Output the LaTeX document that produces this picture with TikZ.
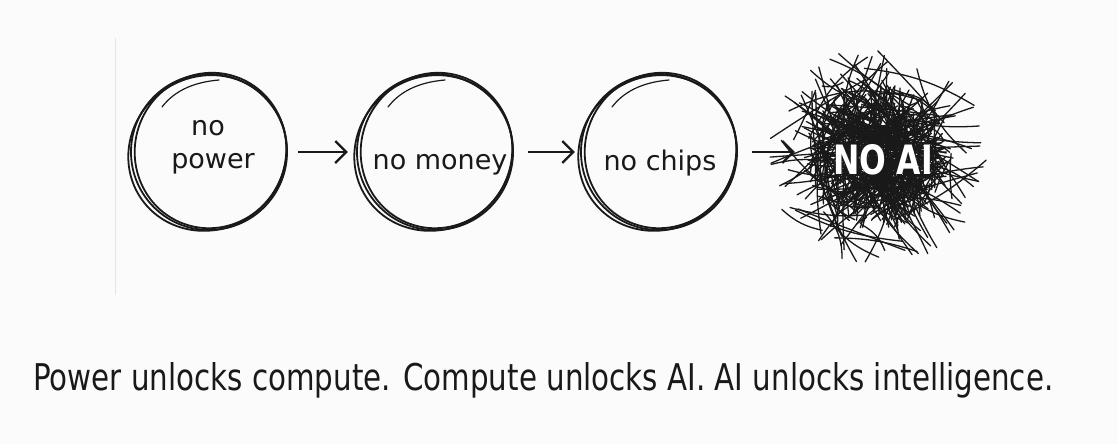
\documentclass[tikz,border=0pt]{standalone}
\usepackage{fontspec}
\setmainfont{DejaVu Sans}
\usetikzlibrary{arrows.meta,calc}
\newcommand\sketchring[1]{%
  \draw[ring] (#1) circle [radius=78pt];
  \draw[ring] ($(#1)+(-1.5,1)$) ellipse [x radius=80.5pt, y radius=76.5pt, rotate=35];
  \draw[ring] ($(#1)+(1.5,-1.5)$) ellipse [x radius=75.5pt, y radius=78pt, rotate=-20];
  \draw[ring, line width=1.2pt, line cap=round] ($(#1)+(-47,-45)$) .. controls ($(#1)+(-34,-62)$) and ($(#1)+(-14,-70)$) .. ($(#1)+(10,-72)$);
}
\begin{document}
\begin{tikzpicture}[x=1pt,y=-1pt,
  ring/.style={line width=1.8pt, black!90},
  hub/.style={circle, minimum size=158pt, inner sep=0pt},
  lbl/.style={font=\fontsize{27}{33}\selectfont, inner sep=0pt, text=black!90},
  arr/.style={line width=2.2pt, black!90, -{Straight Barb[length=11pt,width=22pt]}},
  scrib/.style={line width=1.3pt, black!90, line cap=round}]
\fill[fill={rgb,255:red,251;green,251;blue,251}] (0,0) rectangle (1118,444);
\useasboundingbox (0,0) rectangle (1118,444);

\draw[black!10, line width=1pt] (115,38) -- (115,295);

\node[hub] (p) at (209,152) {};
\node[hub] (m) at (435,152) {};
\node[hub] (c) at (659,152) {};
\node[circle, minimum size=180pt, inner sep=0pt] (ai) at (885,152) {};
\coordinate (sc) at (877,156);

\sketchring{p}
\sketchring{m}
\sketchring{c}

\node[lbl, anchor=base] (t1a) at (208,135) {no};
\node[lbl, anchor=base] (t1b) at (213,168) {power};
\node[lbl, anchor=base] (t2) at (440,169) {no money};
\node[lbl, anchor=base] (t3) at (660,170) {no chips};

\draw[arr, shorten <=10pt, shorten >=8pt] (p) -- (m);
\draw[arr, shorten <=14pt, shorten >=5pt] (m) -- (c);
\draw[arr, shorten <=14pt] (c) -- (ai);

\pgfmathsetseed{4242}
% long chords across the whole ball
\foreach \i in {1,...,120}{
  \pgfmathsetmacro\ra{110*sqrt(rnd)}
  \pgfmathsetmacro\aa{360*rnd}
  \pgfmathsetmacro\rb{110*sqrt(rnd)}
  \pgfmathsetmacro\ab{360*rnd}
  \pgfmathsetmacro\bd{22*rand}
  \draw[scrib] ($(sc)+(\aa:\ra)$) to[bend left=\bd] ($(sc)+(\ab:\rb)$);
}
% dense core
\foreach \i in {1,...,280}{
  \pgfmathsetmacro\ra{74*sqrt(rnd)}
  \pgfmathsetmacro\aa{360*rnd}
  \pgfmathsetmacro\rb{74*sqrt(rnd)}
  \pgfmathsetmacro\ab{360*rnd}
  \pgfmathsetmacro\bd{30*rand}
  \draw[scrib] ($(sc)+(\aa:\ra)$) to[bend left=\bd] ($(sc)+(\ab:\rb)$);
}
\node[inner sep=0pt, text=white, font=\bfseries] (noai) at (883,160) {\resizebox{100pt}{30pt}{NO AI}};

\node[anchor=base west, inner sep=0pt, text=black!90] (cap) at (33,390) {\resizebox{1020pt}{28pt}{Power unlocks compute. Compute unlocks AI. AI unlocks intelligence.}};
\end{tikzpicture}
\end{document}
